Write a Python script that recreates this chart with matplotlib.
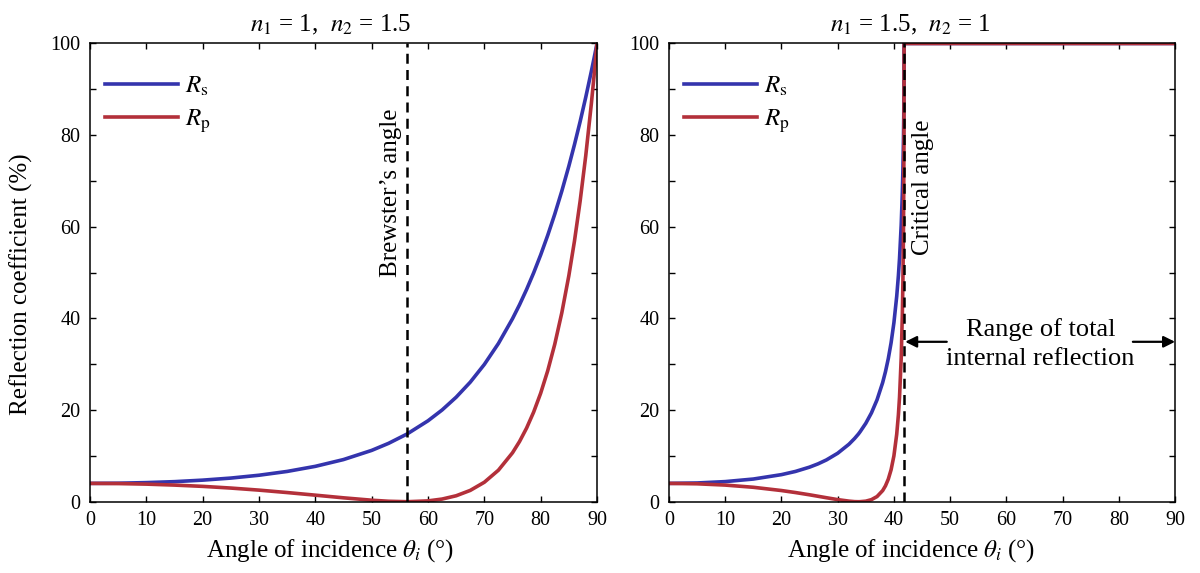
import matplotlib
matplotlib.use("Agg")
import matplotlib.pyplot as plt
from matplotlib.ticker import MultipleLocator

plt.rcParams['font.family'] = ['Liberation Serif', 'DejaVu Serif']
plt.rcParams['mathtext.fontset'] = 'stix'

# left panel: n1 = 1, n2 = 1.5 (external reflection)
angle_ext = [0, 5, 10, 15, 20, 25, 30, 35, 40, 45, 50, 53, 56.3, 60, 62.5, 65,
             67.5, 70, 72.5, 75, 76.25, 77.5, 78.75, 80, 81.25, 82.5, 83.75, 85,
             86, 87, 88, 89, 89.5, 90]
rs_ext = [4.0, 4.04, 4.17, 4.38, 4.71, 5.16, 5.78, 6.61, 7.72, 9.2, 11.2, 12.74, 14.79,
          17.66, 20.02, 22.81, 26.09, 29.96, 34.53, 39.94, 42.99, 46.32, 49.93, 53.86,
          58.13, 62.75, 67.78, 73.23, 77.93, 82.93, 88.26, 93.95, 96.92, 100]
rp_ext = [4.0, 3.96, 3.84, 3.63, 3.35, 2.98, 2.53, 2.0, 1.43, 0.85, 0.33, 0.10, 0.0,
          0.18, 0.58, 1.3, 2.47, 4.25, 6.88, 10.68, 13.14, 16.07, 19.55, 23.68,
          28.57, 34.36, 41.21, 49.32, 56.88, 65.55, 75.48, 86.89, 93.22, 100]
brewster_angle = 56.3

# right panel: n1 = 1.5, n2 = 1 (internal reflection)
angle_int = [0, 5, 10, 15, 20, 22.5, 25, 26.5, 28, 30, 32, 33, 33.7, 34, 35, 36, 37,
             38, 38.5, 39, 39.5, 40, 40.5, 40.8, 41, 41.3, 41.5, 41.6, 41.7, 41.75,
             41.79, 41.81, 45, 60, 90]
rs_int = [4.0, 4.09, 4.39, 4.95, 5.91, 6.61, 7.55, 8.26, 9.12, 10.58, 12.54, 13.79,
          14.79, 15.29, 17.11, 19.37, 22.24, 26.0, 28.38, 31.22, 34.69, 39.05, 44.83,
          49.36, 53.1, 60.45, 67.5, 72.38, 79.1, 84.05, 90.38, 100, 100, 100, 100]
rp_int = [4.0, 3.91, 3.63, 3.15, 2.44, 2.0, 1.51, 1.19, 0.87, 0.46, 0.13, 0.02, 0.0,
          0.01, 0.12, 0.45, 1.13, 2.43, 3.47, 4.92, 6.98, 10.01, 14.73, 18.98, 22.85,
          31.41, 40.82, 48.0, 58.87, 67.58, 79.63, 100, 100, 100, 100]
critical_angle = 41.81

blue = '#3434ad'
red = '#b3303a'
fs = 18


def style_axes(ax, cx):
    ax.set_xlim(0, 90)
    ax.set_ylim(0, 100)
    ax.xaxis.set_major_locator(MultipleLocator(10))
    ax.yaxis.set_major_locator(MultipleLocator(20))
    ax.yaxis.set_minor_locator(MultipleLocator(10))
    ax.tick_params(which='both', direction='in', top=True, right=True,
                   length=4, width=1, labelsize=14.5, pad=7)
    for sp in ax.spines.values():
        sp.set_linewidth(1.1)
    ax.set_xlabel(r'Angle of incidence $\theta_i$ (°)', fontsize=fs)
    ax.xaxis.set_label_coords(cx, -0.077)


def draw_curves(ax, ang, rs, rp):
    ax.plot(ang, rs, color=blue, lw=2.6, label=r'$R_\mathrm{s}$')
    ax.plot(ang, rp, color=red, lw=2.6, label=r'$R_\mathrm{p}$')
    ax.legend(loc='upper left', bbox_to_anchor=(0.0, 0.965), frameon=False,
              fontsize=fs, handlelength=2.9, labelspacing=0.4,
              borderaxespad=0.2, handletextpad=0.3)


fig = plt.figure(figsize=(12, 5.73), dpi=100)
ax1 = fig.add_axes([0.075, 0.1244, 0.4225, 0.7997])
ax2 = fig.add_axes([0.5575, 0.1244, 0.4217, 0.7997])

# left
draw_curves(ax1, angle_ext, rs_ext, rp_ext)
ax1.axvline(brewster_angle, color='k', lw=1.8, ls=(0, (4, 2.5)))
ax1.text(53.5, 67.5, "Brewster’s angle", rotation=90, ha='center', va='center',
         fontsize=fs)
style_axes(ax1, 0.474)
ax1.set_ylabel('Reflection coefficient (%)', fontsize=fs)
ax1.yaxis.set_label_coords(-0.113, 0.475)
ax1.set_title(r'$n_1$ = 1,  $n_2$ = 1.5', fontsize=fs, pad=9, x=0.474)

# right
draw_curves(ax2, angle_int, rs_int, rp_int)
ax2.axvline(critical_angle, color='k', lw=1.8, ls=(0, (4, 2.5)))
ax2.text(45.2, 68.7, 'Critical angle', rotation=90, ha='center', va='center',
         fontsize=fs)
ax2.text(66.1, 34.4, 'Range of total\ninternal reflection', ha='center',
         va='center', fontsize=19, linespacing=1.4)
arrow = dict(arrowstyle='-|>', color='k', lw=1.6, mutation_scale=17,
             shrinkA=0, shrinkB=0)
ax2.annotate('', xy=(critical_angle + 0.2, 34.9), xytext=(49.4, 34.9),
             arrowprops=arrow)
ax2.annotate('', xy=(90, 34.9), xytext=(82.5, 34.9), arrowprops=arrow)
style_axes(ax2, 0.478)
ax2.set_title(r'$n_1$ = 1.5,  $n_2$ = 1', fontsize=fs, pad=9, x=0.478)

fig.savefig('out.png', dpi=100, facecolor='white')
